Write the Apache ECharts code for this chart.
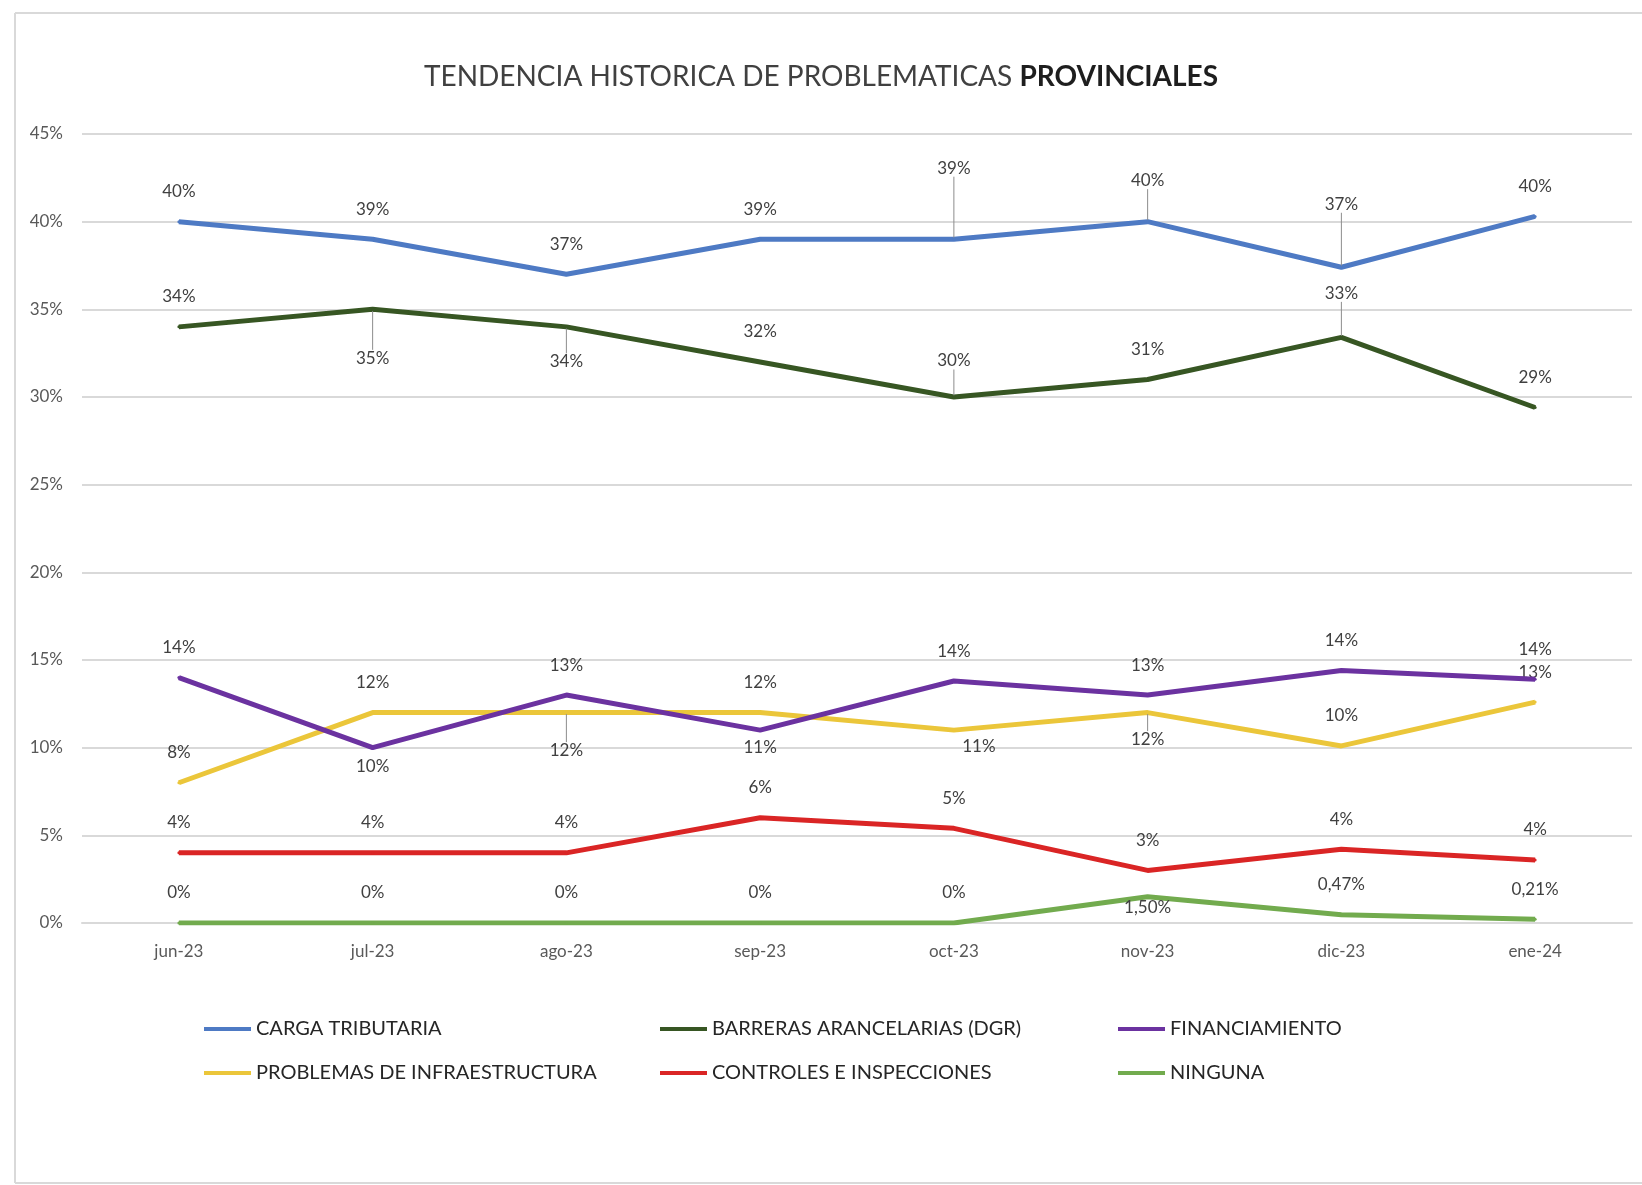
<!DOCTYPE html>
<html>
<head>
<meta charset="utf-8">
<script src="https://cdn.jsdelivr.net/npm/echarts@6/dist/echarts.min.js"></script>
<style>
html,body{margin:0;padding:0;background:#fff;overflow:hidden;}
#c{width:1642px;height:1185px;}
</style>
</head>
<body>
<div id="c"></div>
<script>
// ---- data ----
const categories = ['jun-23','jul-23','ago-23','sep-23','oct-23','nov-23','dic-23','ene-24'];
const seriesNames = ['CARGA TRIBUTARIA','BARRERAS ARANCELARIAS (DGR)','FINANCIAMIENTO','PROBLEMAS DE INFRAESTRUCTURA','CONTROLES E INSPECCIONES','NINGUNA'];
const cargaTributaria = [40, 39, 37, 39, 39, 40, 37.4, 40.3];
const barrerasArancelarias = [34, 35, 34, 32, 30, 31, 33.4, 29.4];
const financiamiento = [14, 10, 13, 11, 13.8, 13, 14.4, 13.9];
const infraestructura = [8, 12, 12, 12, 11, 12, 10.1, 12.6];
const controles = [4, 4, 4, 6, 5.4, 3, 4.2, 3.6];
const ninguna = [0, 0, 0, 0, 0, 1.5, 0.47, 0.21];
const yTicks = [0, 5, 10, 15, 20, 25, 30, 35, 40, 45];

// ---- styling / layout ----
const colors = ['#4E7AC4','#375623','#6B32A0','#EBC63A','#DA2525','#72AB4E'];
const FONT = 'Lato';
// label displacement per "series-index": dx, dy (px), line = leader line
const labelMoves = {
  '0-4': {dy:-41, line:true}, '0-5': {dy:-11, line:true}, '0-6': {dy:-33, line:true},
  '1-1': {dy:79, line:true}, '1-2': {dy:65, line:true}, '1-4': {dy:-6, line:true}, '1-6': {dy:-14, line:true},
  '2-1': {dy:49}, '2-3': {dy:47},
  '3-2': {dy:68, line:true}, '3-4': {dy:46, dx:25}, '3-5': {dy:57, line:true},
  '5-5': {dy:41}
};
const allValues = [cargaTributaria, barrerasArancelarias, financiamiento, infraestructura, controles, ninguna];

function fmt(si){
  return function(p){
    const v = p.value;
    if (si === 5) return v === 0 ? '0%' : v.toFixed(2).replace('.', ',') + '%';
    return Math.round(v) + '%';
  };
}

const series = allValues.map((vals, si) => ({
  name: seriesNames[si],
  type: 'line',
  data: vals.map((v, di) => {
    const m = labelMoves[si + '-' + di];
    return {value: v, labelLine: {show: !!(m && m.line)}};
  }),
  color: colors[si],
  lineStyle: {width: 5, color: colors[si]},
  symbol: 'circle',
  symbolSize: 3,
  itemStyle: {color: colors[si]},
  label: {
    show: true, position: 'top', distance: 20,
    formatter: fmt(si),
    fontFamily: FONT, fontSize: 17, color: '#404040'
  },
  labelLine: {show: false, lineStyle: {color: '#8C8C8C', width: 1}},
  labelLayout: function(p){
    const m = labelMoves[si + '-' + p.dataIndex];
    return m ? {dx: m.dx || 0, dy: m.dy || 0} : {};
  },
  z: 10 - si
}));

const legendPos = [
  [199, 1014], [655, 1014], [1113, 1014],
  [199, 1058], [655, 1058], [1113, 1058]
];
const legends = seriesNames.map((n, i) => ({
  left: legendPos[i][0], top: legendPos[i][1],
  data: [n], icon: 'rect', itemWidth: 47, itemHeight: 4,
  textStyle: {fontFamily: FONT, fontSize: 20, color: '#262626'}
}));

const frameStyle = {stroke: '#D9D9D9', lineWidth: 2};
const chart = echarts.init(document.getElementById('c'), null, {renderer: 'canvas'});
chart.setOption({
  animation: false,
  backgroundColor: '#fff',
  title: {
    text: 'TENDENCIA HISTORICA DE PROBLEMATICAS {b|PROVINCIALES}',
    left: 'center', top: 58,
    textStyle: {
      fontFamily: FONT, fontSize: 28, fontWeight: 'normal', color: '#404040',
      rich: {b: {fontFamily: FONT, fontSize: 28, fontWeight: 'bold', color: '#1E1E1E'}}
    }
  },
  graphic: [
    {type: 'line', shape: {x1: 15, y1: 13, x2: 1642, y2: 13}, style: frameStyle, silent: true, z: -1},
    {type: 'line', shape: {x1: 15, y1: 13, x2: 15, y2: 1183}, style: frameStyle, silent: true, z: -1},
    {type: 'line', shape: {x1: 15, y1: 1183, x2: 1642, y2: 1183}, style: frameStyle, silent: true, z: -1}
  ],
  legend: legends,
  grid: {left: 82, right: 10, top: 134, bottom: 262},
  xAxis: {
    type: 'category', data: categories, boundaryGap: true,
    axisLine: {show: true, lineStyle: {color: '#D9D9D9', width: 2}},
    axisTick: {show: false},
    axisLabel: {fontFamily: FONT, fontSize: 17, color: '#595959', margin: 20}
  },
  yAxis: {
    type: 'value', min: yTicks[0], max: yTicks[yTicks.length - 1], interval: yTicks[1] - yTicks[0],
    axisLine: {show: false}, axisTick: {show: false},
    splitLine: {lineStyle: {color: '#D9D9D9', width: 2}},
    axisLabel: {formatter: '{value}%', fontFamily: FONT, fontSize: 17, color: '#595959', margin: 19}
  },
  series: series
});
</script>
</body>
</html>
